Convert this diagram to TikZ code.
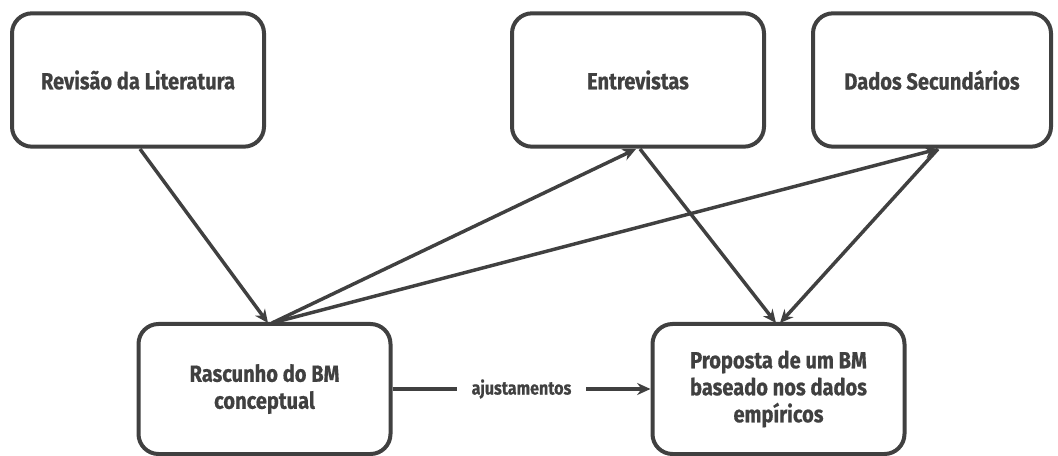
\documentclass[tikz,border=0pt]{standalone}
\usepackage{fontspec}
\setmainfont{Fira Sans}[FakeStretch=0.86, BoldFeatures={FakeBold=0.6}]
\usetikzlibrary{arrows.meta}
\definecolor{ink}{HTML}{404040}
\tikzset{
  box/.style={draw=ink, line width=3pt, rounded corners=15pt, fill=white,
    minimum width=#1, minimum height=100pt, align=center, text=ink,
    font=\bfseries\fontsize{17.5}{20.25}\selectfont, inner sep=0pt},
  box/.default=189pt,
  conn/.style={draw=ink, line width=2.6pt, -{Stealth[length=10pt,width=9pt]}},
  lbl/.style={text=ink, font=\bfseries\fontsize{14}{16}\selectfont, fill=white, inner xsep=11pt}
}
\begin{document}
\begin{tikzpicture}[x=0.75pt,y=-0.75pt]
\useasboundingbox (0,0) rectangle (1058,456);
\node[box] (rev) at (138,80) {Revisão da Literatura};
\node[box] (ent) at (638,80) {Entrevistas};
\node[box=178.5pt] (dad) at (932,80) {Dados Secundários};
\node[box, minimum height=97.5pt] (ras) at (264.5,389) {Rascunho do BM\\conceptual};
\node[box, minimum height=97.5pt] (pro) at (778.5,389) {Proposta de um BM\\baseado nos dados\\empíricos};
\coordinate (revb) at (140,149);
\coordinate (rast) at (268,323);
\coordinate (rast2) at (272,323);
\coordinate (entb) at (636,149);
\coordinate (entb2) at (640,149);
\coordinate (dadb) at (938,149);
\coordinate (prot) at (776,323);
\coordinate (prot2) at (780,323);
\draw[conn] (revb) -- (rast);
\draw[conn] (rast2) -- (entb);
\draw[conn] (rast2) -- (dadb);
\draw[conn] (entb2) -- (prot);
\draw[conn] (dadb) -- (prot2);
\draw[conn] (ras.east) -- node[lbl] (adj) {ajustamentos} (pro.west);
\end{tikzpicture}
\end{document}
